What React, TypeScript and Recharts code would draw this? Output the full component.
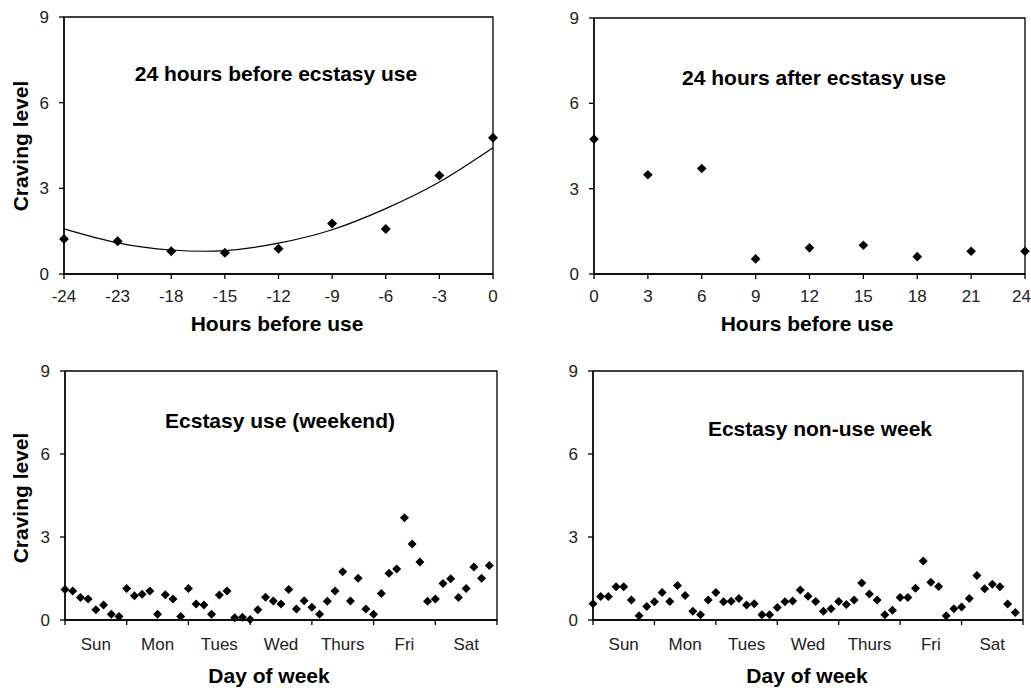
import React from 'react';
import { ComposedChart, Scatter, Line, XAxis, YAxis, ReferenceArea } from 'recharts';

// top-left: 24 h before use (categorical hour labels, evenly spaced)
const BEFORE_LABELS = ['-24', '-23', '-18', '-15', '-12', '-9', '-6', '-3', '0'];
const BEFORE_VALUES = [1.23, 1.15, 0.8, 0.74, 0.88, 1.77, 1.58, 3.45, 4.77];
const BEFORE_TREND = [1.58, 1.09, 0.84, 0.82, 1.08, 1.55, 2.29, 3.22, 4.42];

// top-right: 24 h after use
const AFTER_HOURS = [0, 3, 6, 9, 12, 15, 18, 21, 24];
const AFTER_VALUES = [4.74, 3.49, 3.71, 0.53, 0.92, 1.01, 0.61, 0.8, 0.8];

// bottom: 8 readings per day over a week
const DAYS = ['Sun', 'Mon', 'Tues', 'Wed', 'Thurs', 'Fri', 'Sat'];
const WEEKEND_VALUES = [
  1.1, 1.05, 0.81, 0.76, 0.37, 0.54, 0.21, 0.13,
  1.14, 0.88, 0.93, 1.05, 0.21, 0.91, 0.76, 0.13,
  1.14, 0.58, 0.54, 0.21, 0.9, 1.05, 0.08, 0.1,
  0.02, 0.37, 0.82, 0.69, 0.58, 1.1, 0.4, 0.7,
  0.46, 0.21, 0.68, 1.05, 1.74, 0.69, 1.51, 0.4,
  0.21, 0.96, 1.69, 1.84, 3.7, 2.75, 2.1, 0.68,
  0.76, 1.32, 1.49, 0.81, 1.14, 1.92, 1.51, 1.97,
];
const NONUSE_VALUES = [
  0.59, 0.85, 0.85, 1.2, 1.2, 0.72, 0.15, 0.49,
  0.66, 0.99, 0.67, 1.25, 0.89, 0.32, 0.19, 0.72,
  0.99, 0.66, 0.68, 0.78, 0.54, 0.59, 0.19, 0.19,
  0.45, 0.66, 0.69, 1.08, 0.86, 0.67, 0.32, 0.41,
  0.67, 0.56, 0.72, 1.34, 0.94, 0.72, 0.19, 0.35,
  0.81, 0.81, 1.15, 2.13, 1.36, 1.21, 0.15, 0.41,
  0.47, 0.78, 1.61, 1.13, 1.29, 1.2, 0.58, 0.27,
];

const Y_TICKS = [0, 3, 6, 9];
const DAY_EDGES = [0, 8, 16, 24, 32, 40, 48, 56];

const FONT = '"Liberation Sans", Arial, sans-serif';
const tickStyle = { fill: '#222', fontSize: 17, fontFamily: FONT };
const axisStroke = { stroke: '#000', strokeWidth: 1.3 };

const diamond = (r: number) => (p: any) => {
  const { cx, cy } = p;
  return <path d={`M${cx},${cy - r}L${cx + r},${cy}L${cx},${cy + r}L${cx - r},${cy}Z`} fill="#000" />;
};

const beforeData = BEFORE_LABELS.map((_, i) => ({ x: i, y: BEFORE_VALUES[i], trend: BEFORE_TREND[i] }));
const afterData = AFTER_HOURS.map((h, i) => ({ x: h, y: AFTER_VALUES[i] }));
const weekendData = WEEKEND_VALUES.map((v, i) => ({ x: i, y: v }));
const nonuseData = NONUSE_VALUES.map((v, i) => ({ x: i, y: v }));

function YAx({ width }: { width: number }) {
  return (
    <YAxis type="number" domain={[0, 9]} ticks={Y_TICKS} width={width} tickSize={5} tickMargin={10}
      axisLine={axisStroke} tickLine={axisStroke} tick={tickStyle} interval={0} />
  );
}

// last hour label sits at the page edge, keep it inside
const AfterTick = (p: any) => {
  const last = p.payload.value === 24;
  return (
    <text x={last ? p.x + 6 : p.x} y={p.y} dy="0.71em" textAnchor={last ? 'end' : 'middle'} {...tickStyle}>
      {p.payload.value}
    </text>
  );
};

function WeekPanel({ data, width, yWidth, right, r }: any) {
  const dayPx = (width - yWidth - right) / 7;
  const DayTick = (p: any) => {
    const idx = p.payload.value / 8;
    if (idx >= DAYS.length) return null;
    return (
      <text x={p.x + dayPx / 2} y={p.y + 8} dy="0.71em" textAnchor="middle" {...tickStyle}>{DAYS[idx]}</text>
    );
  };
  return (
    <ComposedChart width={width} height={338} data={data} margin={{ top: 21, right, bottom: 0, left: 0 }}>
      <XAxis dataKey="x" type="number" domain={[0, 56]} ticks={DAY_EDGES} interval={0}
        height={68} tickSize={5} tickMargin={5} tick={DayTick} axisLine={axisStroke} tickLine={axisStroke} />
      {YAx({ width: yWidth })}
      <ReferenceArea x1={0} x2={56} y1={0} y2={9} fill="none" stroke="#000" strokeWidth={1.3} />
      <Scatter dataKey="y" shape={diamond(r)} isAnimationActive={false} />
    </ComposedChart>
  );
}

export default function App() {
  const title = { fontFamily: FONT, fontWeight: 700, fontSize: 21, fill: '#000' } as const;
  return (
    <div style={{ position: 'absolute', left: 0, top: 0, width: 1031, height: 688, background: '#fff', overflow: 'hidden' }}>
      <div style={{ position: 'absolute', left: 0, top: 0 }}>
        <ComposedChart width={520} height={345} data={beforeData} margin={{ top: 17, right: 27, bottom: 0, left: 0 }}>
          <XAxis dataKey="x" type="number" domain={[0, 8]} ticks={[0, 1, 2, 3, 4, 5, 6, 7, 8]} interval={0}
            height={71} tickSize={5} tickMargin={11} axisLine={axisStroke} tickLine={axisStroke} tick={tickStyle}
            tickFormatter={(v: number) => BEFORE_LABELS[v]} />
          {YAx({ width: 64 })}
          <ReferenceArea x1={0} x2={8} y1={0} y2={9} fill="none" stroke="#000" strokeWidth={1.3} />
          <Line dataKey="trend" type="natural" stroke="#000" strokeWidth={1.2} dot={false} isAnimationActive={false} />
          <Scatter dataKey="y" shape={diamond(5)} isAnimationActive={false} />
        </ComposedChart>
      </div>
      <div style={{ position: 'absolute', left: 520, top: 0 }}>
        <ComposedChart width={511} height={345} data={afterData} margin={{ top: 18, right: 6, bottom: 0, left: 0 }}>
          <XAxis dataKey="x" type="number" domain={[0, 24]} ticks={AFTER_HOURS} interval={0}
            height={71} tickSize={5} tickMargin={11} axisLine={axisStroke} tickLine={axisStroke} tick={AfterTick} />
          {YAx({ width: 74 })}
          <ReferenceArea x1={0} x2={24} y1={0} y2={9} fill="none" stroke="#000" strokeWidth={1.3} />
          <Scatter dataKey="y" shape={diamond(4.8)} isAnimationActive={false} />
        </ComposedChart>
      </div>
      <div style={{ position: 'absolute', left: 0, top: 350 }}>
        <WeekPanel data={weekendData} width={520} yWidth={65} right={23} r={4.5} />
      </div>
      <div style={{ position: 'absolute', left: 520, top: 350 }}>
        <WeekPanel data={nonuseData} width={511} yWidth={73} right={8} r={4.5} />
      </div>
      <svg width={1031} height={688} style={{ position: 'absolute', left: 0, top: 0, pointerEvents: 'none' }}>
        <text x={276} y={81} textAnchor="middle" {...title}>24 hours before ecstasy use</text>
        <text x={814} y={85} textAnchor="middle" {...title}>24 hours after ecstasy use</text>
        <text x={280} y={428} textAnchor="middle" {...title}>Ecstasy use (weekend)</text>
        <text x={820} y={436} textAnchor="middle" {...title}>Ecstasy non-use week</text>
        <text x={277} y={331} textAnchor="middle" {...title}>Hours before use</text>
        <text x={807} y={331} textAnchor="middle" {...title}>Hours before use</text>
        <text x={269} y={683} textAnchor="middle" {...title}>Day of week</text>
        <text x={807} y={683} textAnchor="middle" {...title}>Day of week</text>
        <text x={28} y={146} textAnchor="middle" transform="rotate(-90 28 146)" {...title}>Craving level</text>
        <text x={28} y={498} textAnchor="middle" transform="rotate(-90 28 498)" {...title}>Craving level</text>
      </svg>
    </div>
  );
}
